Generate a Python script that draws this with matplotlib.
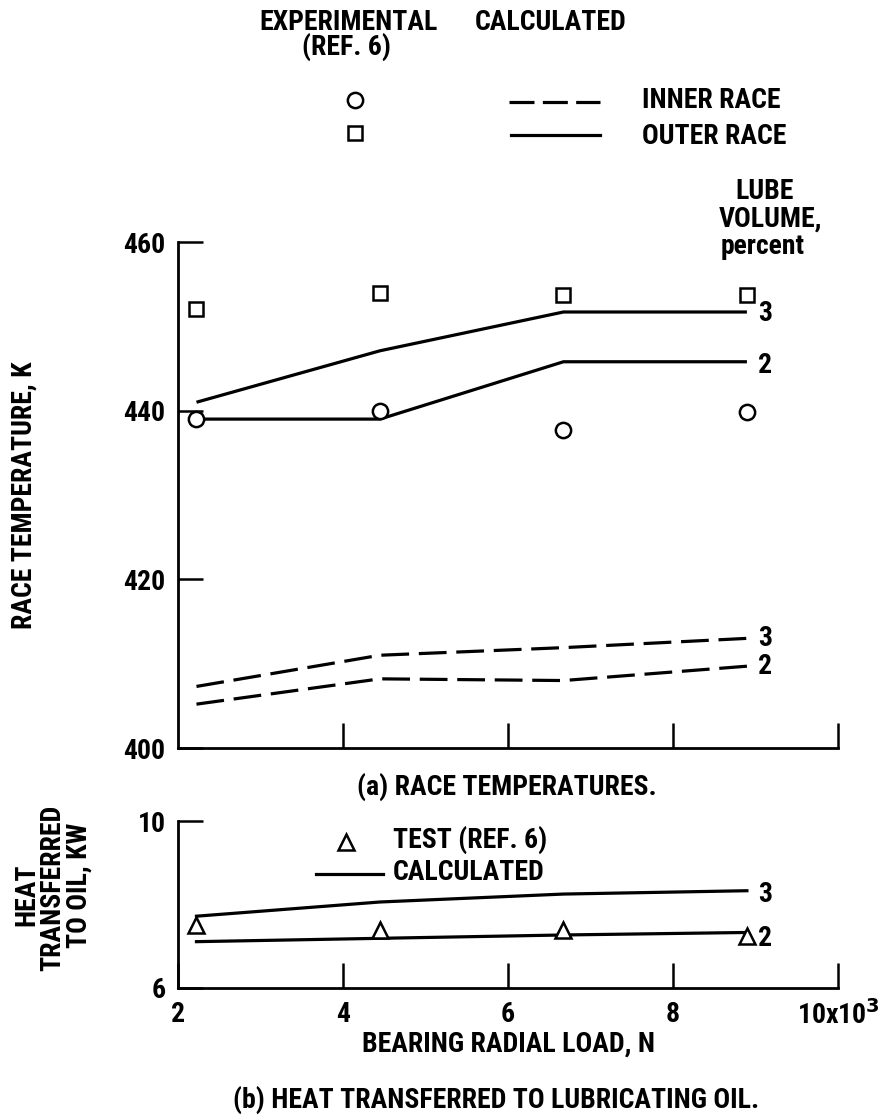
import matplotlib
matplotlib.use("Agg")
import matplotlib.pyplot as plt
import matplotlib.font_manager as fm
from matplotlib.lines import Line2D


def pick_font():
    """원본 글씨가 좁은 글꼴이라, 설치된 글꼴 중 좁은 것을 고른다 (없으면 기본 글꼴)."""
    fonts = fm.fontManager.ttflist
    for name in ["Liberation Sans Narrow", "Roboto Condensed", "Noto Sans Condensed",
                 "Open Sans Condensed", "DejaVu Sans Condensed"]:
        if any(f.name == name for f in fonts):
            return name, "normal", True
    for name in ["DejaVu Sans", "Noto Sans", "Roboto", "Open Sans", "Liberation Sans"]:
        if any(f.name == name and f.stretch in ("condensed", "semi-condensed") for f in fonts):
            return name, "condensed", True
    return "DejaVu Sans", "normal", False


FONT, STRETCH, NARROW = pick_font()
plt.rcParams["font.family"] = [FONT, "DejaVu Sans"]
plt.rcParams["font.stretch"] = STRETCH
plt.rcParams["font.weight"] = "bold"
plt.rcParams["mathtext.default"] = "bf"
plt.rcParams["lines.scale_dashes"] = False

# bearing radial load, 10^3 N
load = [2.224, 4.448, 6.672, 8.896]

# (a) race temperatures, K
inner_exp = [439.0, 440.0, 437.7, 439.9]
outer_exp = [452.0, 453.9, 453.7, 453.7]
outer_calc_3 = [441.0, 447.1, 451.7, 451.7]
outer_calc_2 = [439.0, 439.0, 445.8, 445.8]
inner_calc_3 = [407.3, 411.0, 411.9, 413.0]
inner_calc_2 = [405.2, 408.2, 408.0, 409.7]

# (b) heat transferred to oil, kW
heat_test = [7.51, 7.39, 7.39, 7.24]
heat_calc_3 = [7.72, 8.06, 8.25, 8.33]
heat_calc_2 = [7.11, 7.19, 7.27, 7.33]

W, H = 881, 1118
FS = 20 if NARROW else 15.5
LW = 2.3
DASH = (20, 7)

fig = plt.figure(figsize=(W / 100, H / 100), dpi=100)


def ftext(x, y, s, **kw):
    """그림 픽셀 좌표(좌상단 원점)로 글자를 놓는다."""
    kw.setdefault("fontsize", FS)
    kw.setdefault("ha", "center")
    kw.setdefault("va", "center")
    fig.text(x / W, 1 - y / H, s, **kw)


def axes_px(left, top, right, bottom):
    return fig.add_axes([left / W, 1 - bottom / H, (right - left) / W, (bottom - top) / H])


def style_axes(ax):
    ax.spines["top"].set_visible(False)
    ax.spines["right"].set_visible(False)
    for sp in ("left", "bottom"):
        ax.spines[sp].set_linewidth(2)
    ax.tick_params(direction="in", length=18, width=1.8, labelsize=FS, pad=9)
    ax.patch.set_alpha(0)


def label_end(ax, x, y, s, dy=0):
    ax.annotate(s, (x[-1], y[-1]), xytext=(8, dy), textcoords="offset points",
                ha="left", va="center", fontsize=FS)


# ---- (a) race temperatures ----
ax1 = axes_px(178, 242, 838, 748)
style_axes(ax1)
ax1.set_xlim(2, 10)
ax1.set_ylim(400, 460)
ax1.set_xticks([4, 6, 8, 10])
ax1.set_xticklabels([])
ax1.set_yticks([400, 420, 440, 460])
ax1.set_yticklabels(["400", "420", "440", "460"])

ax1.plot(load, outer_calc_3, color="black", lw=LW, solid_capstyle="butt")
ax1.plot(load, outer_calc_2, color="black", lw=LW, solid_capstyle="butt")
ax1.plot(load, inner_calc_3, color="black", lw=LW, dashes=DASH)
ax1.plot(load, inner_calc_2, color="black", lw=LW, dashes=DASH)
ax1.plot(load, outer_exp, ls="none", marker="s", ms=10, mfc="white", mec="black", mew=1.8,
         clip_on=False)
ax1.plot(load, inner_exp, ls="none", marker="o", ms=11, mfc="white", mec="black", mew=1.8,
         clip_on=False)

label_end(ax1, load, outer_calc_3, "3", dy=-1)
label_end(ax1, load, outer_calc_2, "2", dy=-3)
label_end(ax1, load, inner_calc_3, "3")
label_end(ax1, load, inner_calc_2, "2")

ftext(765, 191, "LUBE")
ftext(770, 219, "VOLUME,")
ftext(763, 247, "percent")

ftext(24, 495, "RACE TEMPERATURE, K", rotation=90)
ftext(507, 787, "(a) RACE TEMPERATURES.")

# legend at top
ftext(349, 22, "EXPERIMENTAL")
ftext(346, 47, "(REF. 6)")
ftext(551, 22, "CALCULATED")
fig.add_artist(Line2D([355 / W], [1 - 100 / H], ls="none", marker="o", ms=11, mfc="white",
                      mec="black", mew=1.8))
fig.add_artist(Line2D([355 / W], [1 - 133 / H], ls="none", marker="s", ms=10, mfc="white",
                      mec="black", mew=1.8))
fig.add_artist(Line2D([509 / W, 600 / W], [1 - 102 / H] * 2, color="black", lw=LW,
                      dashes=(18, 6)))
fig.add_artist(Line2D([511 / W, 600 / W], [1 - 135 / H] * 2, color="black", lw=LW))
ftext(642, 101, "INNER RACE", ha="left")
ftext(642, 137, "OUTER RACE", ha="left")

# ---- (b) heat transferred to oil ----
ax2 = axes_px(178, 821, 838, 988)
style_axes(ax2)
ax2.set_xlim(2, 10)
ax2.set_ylim(6, 10)
ax2.set_xticks([2, 4, 6, 8, 10])
ax2.set_xticklabels(["2", "4", "6", "8", r"10x10$^{3}$"])
ax2.set_yticks([6, 10])
ax2.set_yticklabels(["6", "10"])

ax2.plot(load, heat_calc_3, color="black", lw=LW)
ax2.plot(load, heat_calc_2, color="black", lw=LW)
ax2.plot(load, heat_test, ls="none", marker="^", ms=11, mfc="white", mec="black", mew=1.8,
         clip_on=False)
label_end(ax2, load, heat_calc_3, "3", dy=-3)
label_end(ax2, load, heat_calc_2, "2", dy=-4)

fig.add_artist(Line2D([346 / W], [1 - 842 / H], ls="none", marker="^", ms=11, mfc="white",
                      mec="black", mew=1.8))
ftext(393, 840, "TEST (REF. 6)", ha="left")
fig.add_artist(Line2D([316 / W, 383 / W], [1 - 874 / H] * 2, color="black", lw=LW))
ftext(393, 872, "CALCULATED", ha="left")

ftext(27, 895, "HEAT", rotation=90)
ftext(53, 888, "TRANSFERRED", rotation=90)
ftext(79, 885, "TO OIL, KW", rotation=90)
ftext(508, 1044, "BEARING RADIAL LOAD, N")
ftext(496, 1100, "(b) HEAT TRANSFERRED TO LUBRICATING OIL.")

fig.savefig("out.png", dpi=100)
